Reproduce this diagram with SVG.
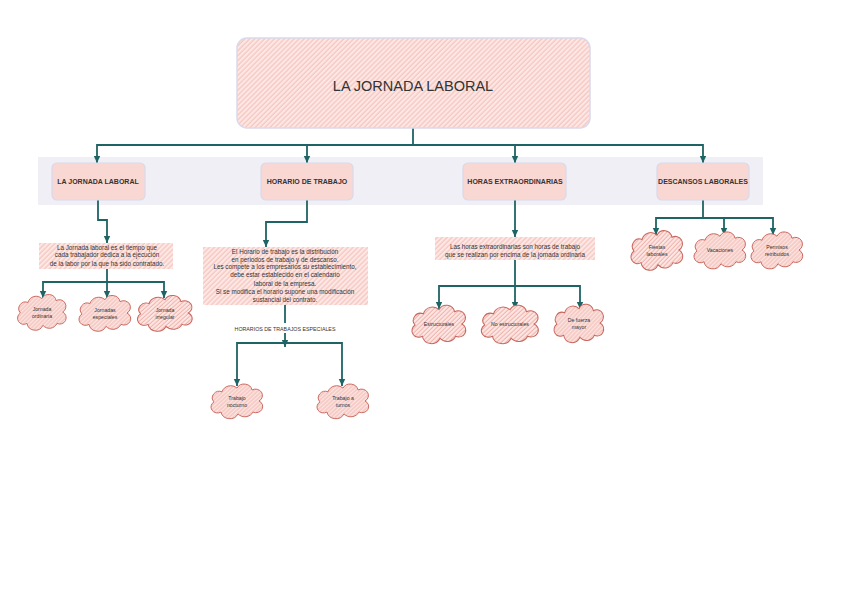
<svg xmlns="http://www.w3.org/2000/svg" width="848" height="600" viewBox="0 0 848 600">
<defs>
<pattern id="hatch" width="3.5" height="3.5" patternUnits="userSpaceOnUse" patternTransform="rotate(45)">
<rect width="3.5" height="3.5" fill="#fde8e5"/>
<line x1="1" y1="0" x2="1" y2="3.5" stroke="#f5bfb8" stroke-width="1.1"/>
</pattern>
<pattern id="hatchc" width="3" height="3" patternUnits="userSpaceOnUse" patternTransform="rotate(45)">
<rect width="3" height="3" fill="#fde6e3"/>
<line x1="1" y1="0" x2="1" y2="3" stroke="#f0b3ab" stroke-width="1"/>
</pattern>
<path id="cloud" d="M-16,12 a6.5 6.5 0 0 1 -7,-11 a7 7 0 0 1 8,-11 a9 9 0 0 1 15,-4 a8 8 0 0 1 15,2 a6.5 6.5 0 0 1 7,12 a6.5 6.5 0 0 1 -6,12 a9 9 0 0 1 -15,2 a9 9 0 0 1 -17,-2 z"/>
<marker id="arr" markerUnits="userSpaceOnUse" markerWidth="8" markerHeight="8" refX="7" refY="4" orient="auto">
<path d="M0,0.8 L7,4 L0,7.2 z" fill="#1f6464"/>
</marker>
</defs>
<style>
.t{font-family:"Liberation Sans","DejaVu Sans",sans-serif;fill:#333;text-anchor:middle}
.box{fill:#f9d8d4;stroke:#d9d9ec;stroke-width:1.2}
.lbl{font-size:7px;font-weight:bold}
.txt{font-size:6.3px}
.cl{fill:url(#hatchc);stroke:#c8665d;stroke-width:1;vector-effect:non-scaling-stroke}
.ct{font-size:5.2px}
.con{fill:none;stroke:#1f6464;stroke-width:1.8}
.ar{marker-end:url(#arr)}
</style>
<rect width="848" height="600" fill="#ffffff"/>
<rect x="38" y="157" width="725" height="48" fill="#efeff5"/>

<g id="connectors">
<path class="con" d="M413,128 V145"/>
<path class="con ar" d="M413,145 H97 V163"/>
<path class="con ar" d="M413,145 H307 V163"/>
<path class="con ar" d="M413,145 H515 V163"/>
<path class="con ar" d="M413,145 H703 V163"/>
<path class="con ar" d="M98,200 V220 H107 V243"/>
<path class="con ar" d="M107,269 V282 H43 V298"/>
<path class="con ar" d="M107,282 V298"/>
<path class="con ar" d="M107,282 H164 V298"/>
<path class="con ar" d="M307,200 V222 H266 V247"/>
<path class="con" d="M285,305 V323"/>
<path class="con ar" d="M285,333 V347"/>
<path class="con ar" d="M285,343 H237 V386"/>
<path class="con ar" d="M285,343 H342 V386"/>
<path class="con ar" d="M515,200 V237"/>
<path class="con ar" d="M515,260 V286 H439 V309"/>
<path class="con ar" d="M515,286 V309"/>
<path class="con ar" d="M515,286 H580 V309"/>
<path class="con ar" d="M703,200 V218 H656 V235"/>
<path class="con ar" d="M703,218 H724 V235"/>
<path class="con ar" d="M703,218 H773 V235"/>
</g>

<g id="main">
<rect x="237" y="38" width="353" height="90" rx="10" fill="url(#hatch)" stroke="#d9d9ec" stroke-width="1.5"/>
<text class="t" x="413" y="91" font-size="14.5">LA JORNADA LABORAL</text>
</g>

<g id="box-jornada">
<rect class="box" x="52" y="163" width="93" height="37" rx="5"/>
<text class="t lbl" x="98" y="184">LA JORNADA LABORAL</text>
</g>
<g id="box-horario">
<rect class="box" x="261" y="163" width="92" height="37" rx="5"/>
<text class="t lbl" x="307" y="184">HORARIO DE TRABAJO</text>
</g>
<g id="box-horas">
<rect class="box" x="463" y="163" width="103" height="37" rx="5"/>
<text class="t lbl" x="515" y="184">HORAS EXTRAORDINARIAS</text>
</g>
<g id="box-descansos">
<rect class="box" x="657" y="163" width="92" height="37" rx="5"/>
<text class="t lbl" x="703" y="184">DESCANSOS LABORALES</text>
</g>

<g id="txt-jornada">
<rect x="39" y="243" width="134" height="26" fill="url(#hatch)"/>
<text class="t txt" x="107" y="249.5">La Jornada laboral es el tiempo que</text>
<text class="t txt" x="107" y="257.3">cada trabajador dedica a la ejecución</text>
<text class="t txt" x="107" y="265.5">de la labor por la que ha sido contratado.</text>
</g>
<g id="txt-horario">
<rect x="203" y="247" width="165" height="58" fill="url(#hatch)"/>
<text class="t txt" x="285" y="254">El Horario de trabajo es la distribución</text>
<text class="t txt" x="285" y="261.5">en periodos de trabajo y de descanso.</text>
<text class="t txt" x="285" y="269">Les compete a los empresarios su establecimiento,</text>
<text class="t txt" x="285" y="277.3">debe estar establecido en el calendario</text>
<text class="t txt" x="285" y="285.6">laboral de la empresa.</text>
<text class="t txt" x="285" y="294">Si se modifica el horario supone una modificación</text>
<text class="t txt" x="285" y="302.3">sustancial del contrato.</text>
</g>
<g id="lbl-especiales">
<text class="t" x="285" y="331.3" font-size="5.3px">HORARIOS DE TRABAJOS ESPECIALES</text>
</g>
<g id="txt-horas">
<rect x="435" y="237" width="160" height="23" fill="url(#hatch)"/>
<text class="t txt" x="515" y="249">Las horas extraordinarias son horas de trabajo</text>
<text class="t txt" x="515" y="257.3">que se realizan por encima de la jornada ordinaria</text>
</g>

<g id="c-ordinaria">
<use href="#cloud" class="cl" transform="translate(42,312) scale(0.94,0.95)"/>
<text class="t ct" x="42" y="310.5">Jornada</text><text class="t ct" x="42" y="317.5">ordinaria</text>
</g>
<g id="c-especiales">
<use href="#cloud" class="cl" transform="translate(105,313) scale(1,0.95)"/>
<text class="t ct" x="105" y="311.5">Jornadas</text><text class="t ct" x="105" y="318.5">especiales</text>
</g>
<g id="c-irregular">
<use href="#cloud" class="cl" transform="translate(165,313) scale(1.06,0.95)"/>
<text class="t ct" x="165" y="311.5">Jornada</text><text class="t ct" x="165" y="318.5">irregular</text>
</g>
<g id="c-nocturno">
<use href="#cloud" class="cl" transform="translate(237,401) scale(1,0.92)"/>
<text class="t ct" x="237" y="399.5">Trabajo</text><text class="t ct" x="237" y="406.5">nocturno</text>
</g>
<g id="c-turnos">
<use href="#cloud" class="cl" transform="translate(343,401) scale(1,0.92)"/>
<text class="t ct" x="343" y="399.5">Trabajo a</text><text class="t ct" x="343" y="406.5">turnos</text>
</g>
<g id="c-estructurales">
<use href="#cloud" class="cl" transform="translate(439,324) scale(1.04,1.02)"/>
<text class="t ct" x="439" y="326">Estructurales</text>
</g>
<g id="c-noestructurales">
<use href="#cloud" class="cl" transform="translate(510,324) scale(1.1,1.02)"/>
<text class="t ct" x="510" y="326">No estructurales</text>
</g>
<g id="c-fuerza">
<use href="#cloud" class="cl" transform="translate(579,323) scale(0.96,1.02)"/>
<text class="t ct" x="579" y="321.5">De fuerza</text><text class="t ct" x="579" y="328.5">mayor</text>
</g>
<g id="c-fiestas">
<use href="#cloud" class="cl" transform="translate(657,250) scale(1,1.05)"/>
<text class="t ct" x="657" y="248.5">Fiestas</text><text class="t ct" x="657" y="255.5">laborales</text>
</g>
<g id="c-vacaciones">
<use href="#cloud" class="cl" transform="translate(720,250) scale(1,0.98)"/>
<text class="t ct" x="720" y="252">Vacaciones</text>
</g>
<g id="c-permisos">
<use href="#cloud" class="cl" transform="translate(777,250) scale(1,0.98)"/>
<text class="t ct" x="777" y="248.5">Permisos</text><text class="t ct" x="777" y="255.5">retribuidos</text>
</g>
</svg>
